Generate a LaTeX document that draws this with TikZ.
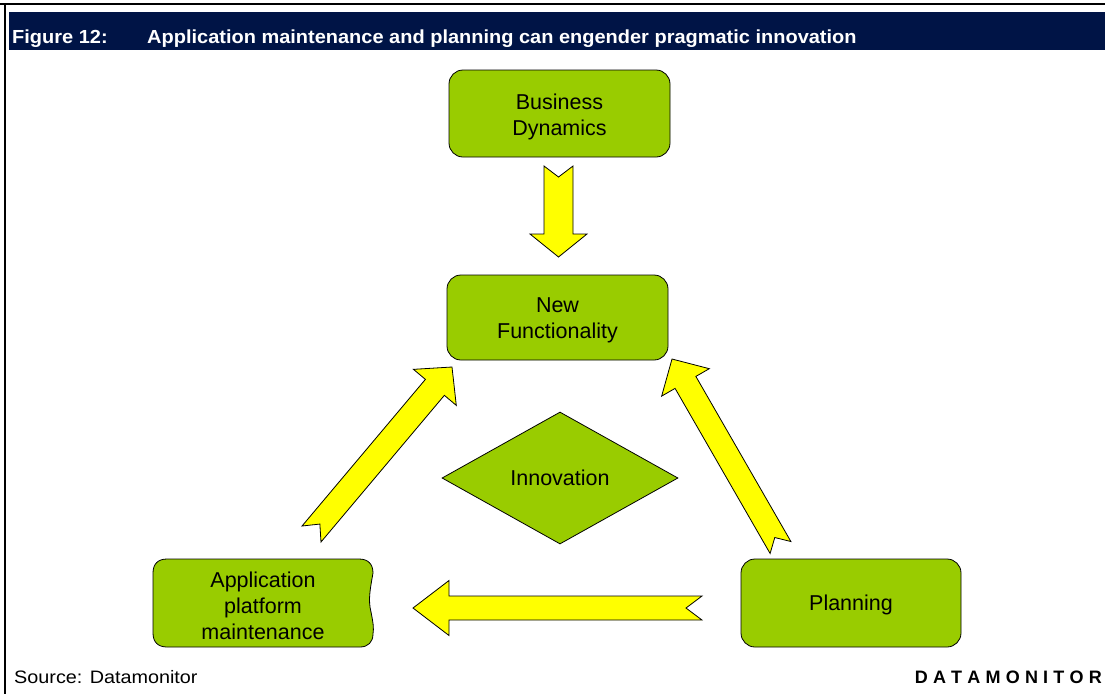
\documentclass[tikz,border=0pt]{standalone}
\usepackage{fontspec}
\setmainfont{Liberation Sans}
\usetikzlibrary{shapes.geometric,calc}

\definecolor{navy}{RGB}{0,20,70}
\definecolor{leaf}{RGB}{153,204,0}
\definecolor{lemon}{RGB}{255,255,0}

\newcommand\boxfont{\fontsize{21.5}{26}\selectfont}
\newcommand\capfont{\fontsize{18}{22}\selectfont}

\tikzset{
  greenbox/.style={draw=black, line width=0.8pt, fill=leaf, rounded corners=14pt,
    minimum width=221pt, minimum height=87pt, inner sep=0pt},
  boxtext/.style={align=center, font=\boxfont, inner sep=0pt, yshift=-3pt},
  greenshape/.style={draw=black, line width=0.8pt, fill=leaf},
  flowarrow/.style={draw=black, line width=0.8pt, fill=lemon, line join=miter},
  caption/.style={inner sep=0pt, font=\capfont},
}

% Block arrow with notched tail:
% #1 tail, #2 tip, #3 shaft half width, #4 head half width, #5 head length, #6 notch depth
\newcommand\blockarrow[6]{%
  \coordinate (ba-base) at ($(#2)!#5!(#1)$);
  \coordinate (ba-notch) at ($(#1)!#6!(#2)$);
  \path[flowarrow]
    ($(#1)!#3!90:(#2)$) -- ($(ba-base)!#3!90:(#2)$) -- ($(ba-base)!#4!90:(#2)$)
    -- (#2)
    -- ($(ba-base)!#4!-90:(#2)$) -- ($(ba-base)!#3!-90:(#2)$) -- ($(#1)!#3!-90:(#2)$)
    -- (ba-notch) -- cycle;
}

\begin{document}
\begin{tikzpicture}[x=1pt,y=-1pt]
\useasboundingbox (0,0) rectangle (1105,694);
\fill[white] (0,0) rectangle (1105,694);

% frame and title bar
\draw[line width=1.6pt] (0,4) -- (1105,4);
\draw[line width=2pt] (5,4) -- (5,694);
\fill[navy] (9,12) rectangle (1105,50);
\node[caption, anchor=base west, text=white, font=\capfont\bfseries] (fig) at (12,43)
  {\scalebox{1.11}[1.05]{Figure 12:}};
\node[caption, anchor=base west, text=white, font=\capfont\bfseries] (title) at (147,43)
  {\scalebox{1.11}[1.05]{Application maintenance and planning can engender pragmatic innovation}};

% boxes
\node[greenbox, label={[boxtext]center:{Business\\Dynamics}}] (bd) at (559.5,113.5) {};
\node[greenbox, minimum height=85pt, label={[boxtext]center:{New\\Functionality}}] (nf) at (557.5,317.5) {};
\node[greenbox, minimum width=220pt, minimum height=88pt,
  label={[boxtext, yshift=1pt]center:Planning}] (pl) at (851,603) {};
\node[diamond, greenshape, inner sep=0pt, aspect=1.79, minimum width=236pt,
  minimum height=132pt, font=\boxfont] (inn) at (560,478) {\raisebox{-1pt}{Innovation}};

% maintenance box with a wavy right edge
\path[greenshape]
  (167,559) -- (359,559) .. controls (368,559) and (373,564) .. (373,573)
  .. controls (370,590) and (368,600) .. (371,612)
  .. controls (373,622) and (374,628) .. (373,634)
  .. controls (373,642) and (368,647) .. (360,647)
  -- (167,647) .. controls (158,647) and (153,642) .. (153,633)
  -- (153,573) .. controls (153,564) and (158,559) .. (167,559) -- cycle;
\node[align=center, font=\boxfont, inner sep=0pt] (apm) at (263,606)
  {Application\\platform\\maintenance};

% arrow end points
\coordinate (bd-out) at (558.5,166);
\coordinate (nf-in-top) at (558.5,257);
\coordinate (pl-out) at (702,608);
\coordinate (apm-in) at (413,608);
\coordinate (apm-out) at (311.5,534);
\coordinate (nf-in-left) at (452,367);
\coordinate (pl-up) at (780.5,547.5);
\coordinate (nf-in-right) at (672,359);

\blockarrow{bd-out}{nf-in-top}{14.5pt}{28.5pt}{23pt}{11pt}
\blockarrow{pl-out}{apm-in}{12pt}{27.5pt}{36pt}{16pt}
\blockarrow{apm-out}{nf-in-left}{12.4pt}{28pt}{26.6pt}{13pt}
\blockarrow{pl-up}{nf-in-right}{12pt}{27.5pt}{27pt}{11.5pt}

% footer
\node[caption, anchor=base west] (src) at (14,683) {\scalebox{1.1}[1]{Source: Datamonitor}};
\node[caption, anchor=base east, font=\capfont\bfseries] (brand) at (1102,683)
  {D\hspace{5.2pt}A\hspace{5.2pt}T\hspace{5.2pt}A\hspace{5.2pt}M\hspace{5.2pt}O\hspace{5.2pt}N\hspace{5.2pt}I\hspace{5.2pt}T\hspace{5.2pt}O\hspace{5.2pt}R};
\end{tikzpicture}
\end{document}
